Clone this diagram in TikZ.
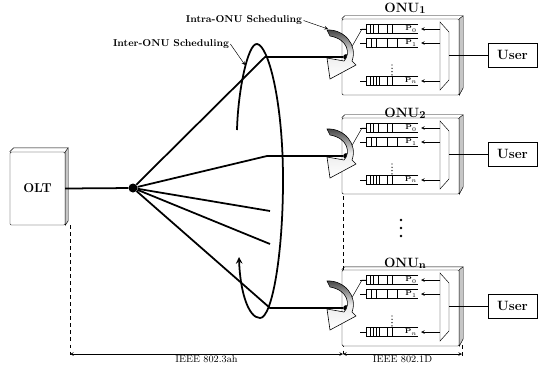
\documentclass[tikz,border=0pt]{standalone}
\usetikzlibrary{arrows.meta}
\begin{document}
\begin{tikzpicture}[x=0.03cm,y=-0.03cm,>=stealth,
    fiber/.style={line width=1.5pt},
    box3d/.style={draw,fill=white,rounded corners=1pt,inner sep=0pt},
    userbox/.style={draw,fill=white,minimum width=1.47cm,minimum height=0.72cm,font=\fontsize{11.5}{13}\selectfont\bfseries},
    onulabel/.style={font=\fontsize{11.5}{13}\selectfont\bfseries,inner sep=0pt},
    schedlabel/.style={font=\fontsize{8.5}{10}\selectfont\bfseries,inner sep=1pt},
    stdlabel/.style={font=\fontsize{8.5}{10}\selectfont,inner sep=1pt},
    qlabel/.style={font=\fontsize{6}{7}\selectfont\bfseries,inner sep=0pt},
    intra/.style={draw,line width=0.5pt,top color=black!75,bottom color=white,middle color=gray!15}]
    \useasboundingbox (0,0) rectangle (541,366);

    % guides
    \draw[dashed] (70,225) -- (70,356);
    \draw[dashed] (343,196) -- (343,356);
    \draw[dashed] (462,345) -- (462,356);

    % OLT and splitter
    \node[box3d,minimum width=1.65cm,minimum height=2.19cm,font=\fontsize{11}{13}\selectfont\bfseries] (olt) at (37.5,188.5) {OLT};
    \draw[fill=gray!45] (olt.north east) -- ++(3,-4) -- ++(0,73) -- (olt.south east) -- cycle;
    \draw (olt.north west) -- ++(4,-4) -- ++(54,0);
    \node[circle,fill,inner sep=0pt,minimum size=0.27cm] (split) at (133,188) {};
    \draw[fiber] (olt.east) -- (split);

    % ONUs
    \foreach \ty/\k/\ly in {19/1/8,118/2/113,270/n/263} {
        \node[box3d,minimum width=3.51cm,minimum height=2.28cm] (onu\k) at (400.5,\ty+38) {};
        \draw[fill=gray!45] (onu\k.north east) -- ++(4,-3) -- ++(0,72) -- (onu\k.south east) -- cycle;
        \draw (onu\k.north west) -- ++(3,-3) -- ++(118,0);
        \node[onulabel] (onulab\k) at (405,\ly) {ONU{\fontsize{9}{9}\selectfont\raisebox{-0.25ex}{\k}}};
        % mux and user
        \draw (440,\ty+3) -- (440,\ty+71) -- (449,\ty+61) -- (449,\ty+13) -- cycle;
        \coordinate (mux\k) at (449,\ty+36);
        \node[userbox] (user\k) at (512.5,\ty+36) {User};
        \draw (mux\k) -- (user\k);
        % queues
        \foreach \dy/\pr/\cells in {10/0/{4,7,12,21,26}, 24/1/{5,10,21,31}, 62/n/{4,7,10,13,21,26}} {
            \draw (418,\ty+\dy-4.5) -- (366,\ty+\dy-4.5) -- (366,\ty+\dy+4.5) -- (418,\ty+\dy+4.5);
            \draw (360,\ty+\dy) -- (366,\ty+\dy);
            \foreach \cx in \cells \draw (366+\cx,\ty+\dy-4.5) -- ++(0,9);
            \node[qlabel] at (411,\ty+\dy) {P$_\pr$};
            \draw[->] (440,\ty+\dy) -- (421,\ty+\dy);
        }
        \foreach \j in {0,...,3} \fill (392,\ty+46+3.3*\j) circle (0.7);
        % port and intra-ONU arrow
        \node[circle,fill,inner sep=0pt,minimum size=0.17cm] (port\k) at (346,\ty+38) {};
        \draw (port\k) -- (362,\ty+10) -- (366,\ty+10);
        \begin{scope}[shift={(346,\ty+38)}]
            \draw[intra] (-19,-27) .. controls (-2,-28) and (12,-12) .. (6,4) -- (10,8) -- (-16,22) -- (-19,1)
                -- (-2,4) .. controls (5,-3) and (2,-18) .. (-16,-21) -- cycle;
        \end{scope}
    }

    % fibers
    \draw[fiber] (split) -- (265,57) -- (port1);
    \draw[fiber] (split) -- (267,156) -- (port2);
    \draw[fiber] (split) -- (270,211);
    \draw[fiber] (split) -- (270,244);
    \draw[fiber] (split) -- (270,308) -- (portn);

    % inter-ONU loop
    \draw[fiber,->] (237,130) .. controls (238,90) and (248,43) .. (257,44)
        .. controls (268,45) and (283,100) .. (283,180)
        .. controls (283,255) and (272,318) .. (260,318)
        .. controls (248,318) and (240,290) .. (239,257);

    % labels
    \coordinate (intratip) at (328,29);
    \coordinate (intertip) at (245,65);
    \node[schedlabel] (intralab) at (244,20.5) {Intra-ONU Scheduling};
    \draw[->,thin] (intralab.east) -- (intratip);
    \node[schedlabel] (interlab) at (171,44) {Inter-ONU Scheduling};
    \draw[->,thin] (interlab.east) -- (intertip);

    \foreach \j in {0,1,2} \fill (401,220+8*\j) circle (1.3);

    % standards
    \coordinate (d0) at (70,354);
    \coordinate (d1) at (343,354);
    \coordinate (d2) at (462,354);
    \draw[<->] (d0) -- node[below,stdlabel] {IEEE 802.3ah} (d1);
    \draw[<->] (d1) -- node[below,stdlabel] {IEEE 802.1D} (d2);
\end{tikzpicture}
\end{document}
